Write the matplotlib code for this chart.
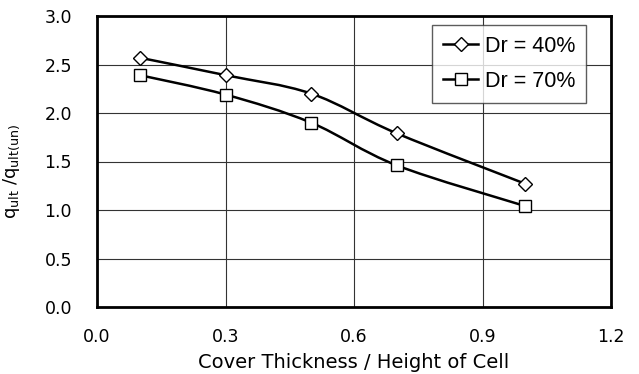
import matplotlib
matplotlib.use('Agg')
import matplotlib.pyplot as plt
import numpy as np
from matplotlib.path import Path
from matplotlib.patches import PathPatch

plt.rcParams['font.family'] = ['DejaVu Sans']
plt.rcParams['mathtext.fontset'] = 'custom'
plt.rcParams['mathtext.rm'] = 'DejaVu Sans'
plt.rcParams['mathtext.it'] = 'DejaVu Sans'

# cover thickness ratio vs. bearing capacity ratio
cover_ratio = [0.1, 0.3, 0.5, 0.7, 1.0]
dr40 = [2.57, 2.39, 2.20, 1.79, 1.27]
dr70 = [2.39, 2.19, 1.90, 1.46, 1.04]

x_ticks = [0.0, 0.3, 0.6, 0.9, 1.2]
y_ticks = [0.0, 0.5, 1.0, 1.5, 2.0, 2.5, 3.0]


def smooth_path(xs, ys, tension=1 / 6):
    # spreadsheet-style smoothed line: cubic Bezier through each point
    pts = np.column_stack([xs, ys])
    n = len(pts)
    verts = [pts[0]]
    codes = [Path.MOVETO]
    for i in range(n - 1):
        p0 = pts[i - 1] if i > 0 else pts[i]
        p1 = pts[i]
        p2 = pts[i + 1]
        p3 = pts[i + 2] if i + 2 < n else pts[i + 1]
        c1 = p1 + (p2 - p0) * tension
        c2 = p2 - (p3 - p1) * tension
        verts += [c1, c2, p2]
        codes += [Path.CURVE4] * 3
    return Path(verts, codes)


fig = plt.figure(figsize=(6.39, 3.74), dpi=100)
ax = fig.add_axes([97 / 639, 1 - 307 / 374, (611 - 97) / 639, (307 - 16) / 374])

for ys, marker, ms, label in [(dr40, 'D', 7, 'Dr = 40%'), (dr70, 's', 9, 'Dr = 70%')]:
    ax.add_patch(PathPatch(smooth_path(cover_ratio, ys), facecolor='none',
                           edgecolor='black', lw=1.8, zorder=3))
    ax.plot(cover_ratio, ys, linestyle='none', marker=marker, ms=ms,
            mfc='white', mec='black', mew=1.0, zorder=4)
    ax.plot([], [], color='black', lw=1.8, marker=marker, ms=ms,
            mfc='white', mec='black', mew=1.0, label=label)

ax.set_xlim(0, 1.2)
ax.set_ylim(0, 3.0)
ax.set_xticks(x_ticks)
ax.set_yticks(y_ticks)
ax.set_xticklabels([f'{v:.1f}' for v in x_ticks])
ax.set_yticklabels([f'{v:.1f}' for v in y_ticks])
ax.tick_params(length=0, labelsize=12.5)
ax.tick_params(axis='y', pad=18)
ax.tick_params(axis='x', pad=15)
ax.grid(True, color='#333333', lw=0.8)
ax.set_axisbelow(True)
for s in ax.spines.values():
    s.set_linewidth(2.0)
    s.set_color('black')

ax.set_xlabel('Cover Thickness / Height of Cell', fontsize=14, labelpad=5)
ax.set_ylabel(r'$\mathregular{q_{ult}}$ /$\mathregular{q_{ult(un)}}$', fontsize=13)
ax.yaxis.set_label_coords(22 / 639, 1 - 171 / 374, transform=fig.transFigure)

leg = ax.legend(loc='upper right', bbox_to_anchor=(586 / 639, 1 - 25 / 374),
                bbox_transform=fig.transFigure, frameon=True,
                prop={'family': 'Liberation Sans', 'size': 15.5},
                fancybox=False, edgecolor='#333333', handlelength=1.65,
                handletextpad=0.3, borderpad=0.5, labelspacing=0.65,
                borderaxespad=0)
leg.get_frame().set_linewidth(1.0)

fig.savefig('out.png', dpi=100)
